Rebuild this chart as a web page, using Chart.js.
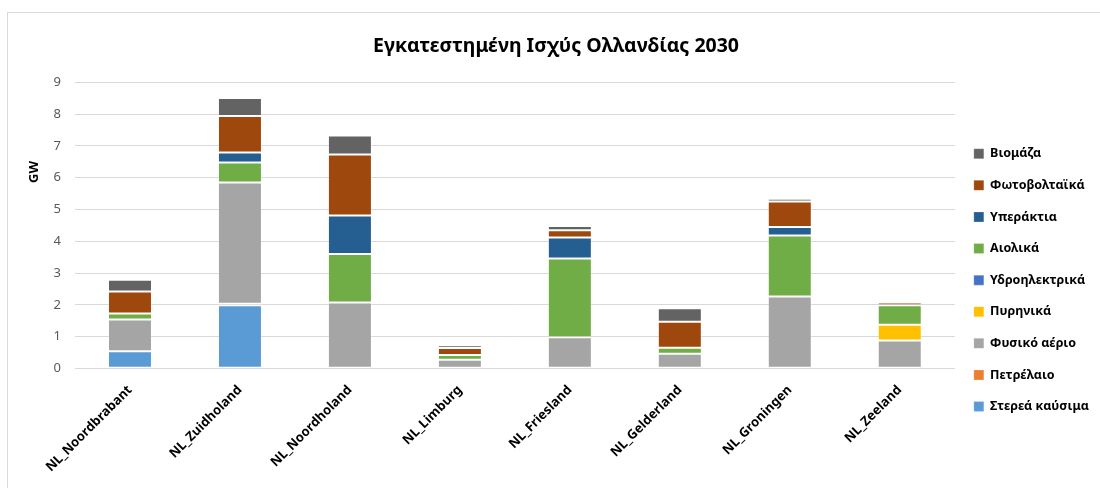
<!DOCTYPE html>
<html>
<head>
<meta charset="utf-8">
<script src="https://cdn.jsdelivr.net/npm/chart.js@4.4.1/dist/chart.umd.min.js"></script>
<style>
  body { margin: 0; background: #fff; }
  #wrap { width: 1100px; height: 488px; }
</style>
</head>
<body>
<div id="wrap"><canvas id="myChart" width="1100" height="488"></canvas></div>
<script>
// regions
var regions = ['NL_Noordbrabant', 'NL_Zuidholand', 'NL_Noordholand', 'NL_Limburg',
               'NL_Friesland', 'NL_Gelderland', 'NL_Groningen', 'NL_Zeeland'];

// installed capacity, GW
var stereaKafsima  = [0.54, 1.99, 0,    0,    0,    0,    0,    0];
var petrelaio      = [0,    0.04, 0,    0,    0,    0,    0,    0];
var fysikoAerio    = [1.00, 3.82, 2.07, 0.27, 0.98, 0.46, 2.26, 0.88];
var pyrinika       = [0,    0,    0,    0,    0,    0,    0,    0.49];
var ydroilektrika  = [0,    0,    0,    0,    0,    0,    0,    0];
var aiolika        = [0.19, 0.63, 1.53, 0.15, 2.48, 0.19, 1.92, 0.62];
var yperaktia      = [0,    0.31, 1.21, 0,    0.66, 0,    0.27, 0];
var fotovoltaika   = [0.69, 1.15, 1.92, 0.22, 0.23, 0.82, 0.80, 0.08];
var viomaza        = [0.37, 0.57, 0.60, 0.09, 0.13, 0.42, 0.09, 0.03];

var yTicks = [0, 1, 2, 3, 4, 5, 6, 7, 8, 9];

var font = "'Noto Sans', 'DejaVu Sans', sans-serif";

function ds(label, data, color) {
    return {
        label: label,
        data: data,
        backgroundColor: color,
        borderColor: 'rgba(255,255,255,0.22)',
        borderWidth: 1,
        borderSkipped: false,
        categoryPercentage: 1,
        barPercentage: 0.4
    };
}

// outer frame + the GW label
var extras = {
    id: 'extras',
    beforeDraw: function(chart) {
        var c = chart.ctx;
        c.save();
        c.fillStyle = '#fff';
        c.fillRect(0, 0, chart.width, chart.height);
        c.strokeStyle = '#d9d9d9';
        c.lineWidth = 1;
        c.strokeRect(7.5, 12.5, 1200, 600);
        c.restore();
    },
    afterDraw: function(chart) {
        var c = chart.ctx;
        c.save();
        c.translate(34, 172);
        c.rotate(-Math.PI / 2);
        c.font = "bold 13px " + font;
        c.fillStyle = '#000';
        c.textAlign = 'center';
        c.textBaseline = 'middle';
        c.fillText('GW', 0, 0);
        c.restore();
    }
};

var ctx = document.getElementById('myChart').getContext('2d');
var myChart = new Chart(ctx, {
    type: 'bar',
    data: {
        labels: regions,
        datasets: [
            ds('Στερεά καύσιμα', stereaKafsima, '#5B9BD5'),
            ds('Πετρέλαιο', petrelaio, '#ED7D31'),
            ds('Φυσικό αέριο', fysikoAerio, '#A5A5A5'),
            ds('Πυρηνικά', pyrinika, '#FFC000'),
            ds('Υδροηλεκτρικά', ydroilektrika, '#4472C4'),
            ds('Αιολικά', aiolika, '#70AD47'),
            ds('Υπεράκτια', yperaktia, '#255E91'),
            ds('Φωτοβολταϊκά', fotovoltaika, '#9E480E'),
            ds('Βιομάζα', viomaza, '#636363')
        ]
    },
    options: {
        responsive: false,
        animation: false,
        devicePixelRatio: 1,
        layout: { padding: { top: 12, left: 13, right: 1, bottom: 7 } },
        plugins: {
            title: {
                display: true,
                text: 'Εγκατεστημένη Ισχύς Ολλανδίας 2030',
                color: '#000',
                font: { family: font, size: 19.5, weight: 'bold' },
                padding: { top: 23, bottom: 24 }
            },
            legend: {
                position: 'right',
                align: 'start',
                reverse: true,
                title: { display: true, text: ' ', padding: 51, font: { size: 12 } },
                labels: {
                    color: '#000',
                    font: { family: font, size: 12.5, weight: 'bold' },
                    boxWidth: 10,
                    boxHeight: 10,
                    padding: 19.1
                }
            },
            tooltip: { enabled: false }
        },
        scales: {
            x: {
                stacked: true,
                grid: { display: false },
                border: { display: true, color: '#d9d9d9' },
                ticks: {
                    color: '#000',
                    font: { family: font, size: 13, weight: 'bold' },
                    maxRotation: 45,
                    minRotation: 45,
                    padding: 6
                }
            },
            y: {
                stacked: true,
                min: 0,
                max: 9,
                afterBuildTicks: function(axis) {
                    axis.ticks = yTicks.map(function(v) { return { value: v }; });
                },
                afterFit: function(axis) {
                    axis.width = 62;
                },
                grid: { color: '#d9d9d9', drawTicks: false },
                border: { display: false },
                ticks: {
                    color: '#595959',
                    font: { family: font, size: 13 },
                    padding: 14
                }
            }
        }
    },
    plugins: [extras]
});
</script>
</body>
</html>
